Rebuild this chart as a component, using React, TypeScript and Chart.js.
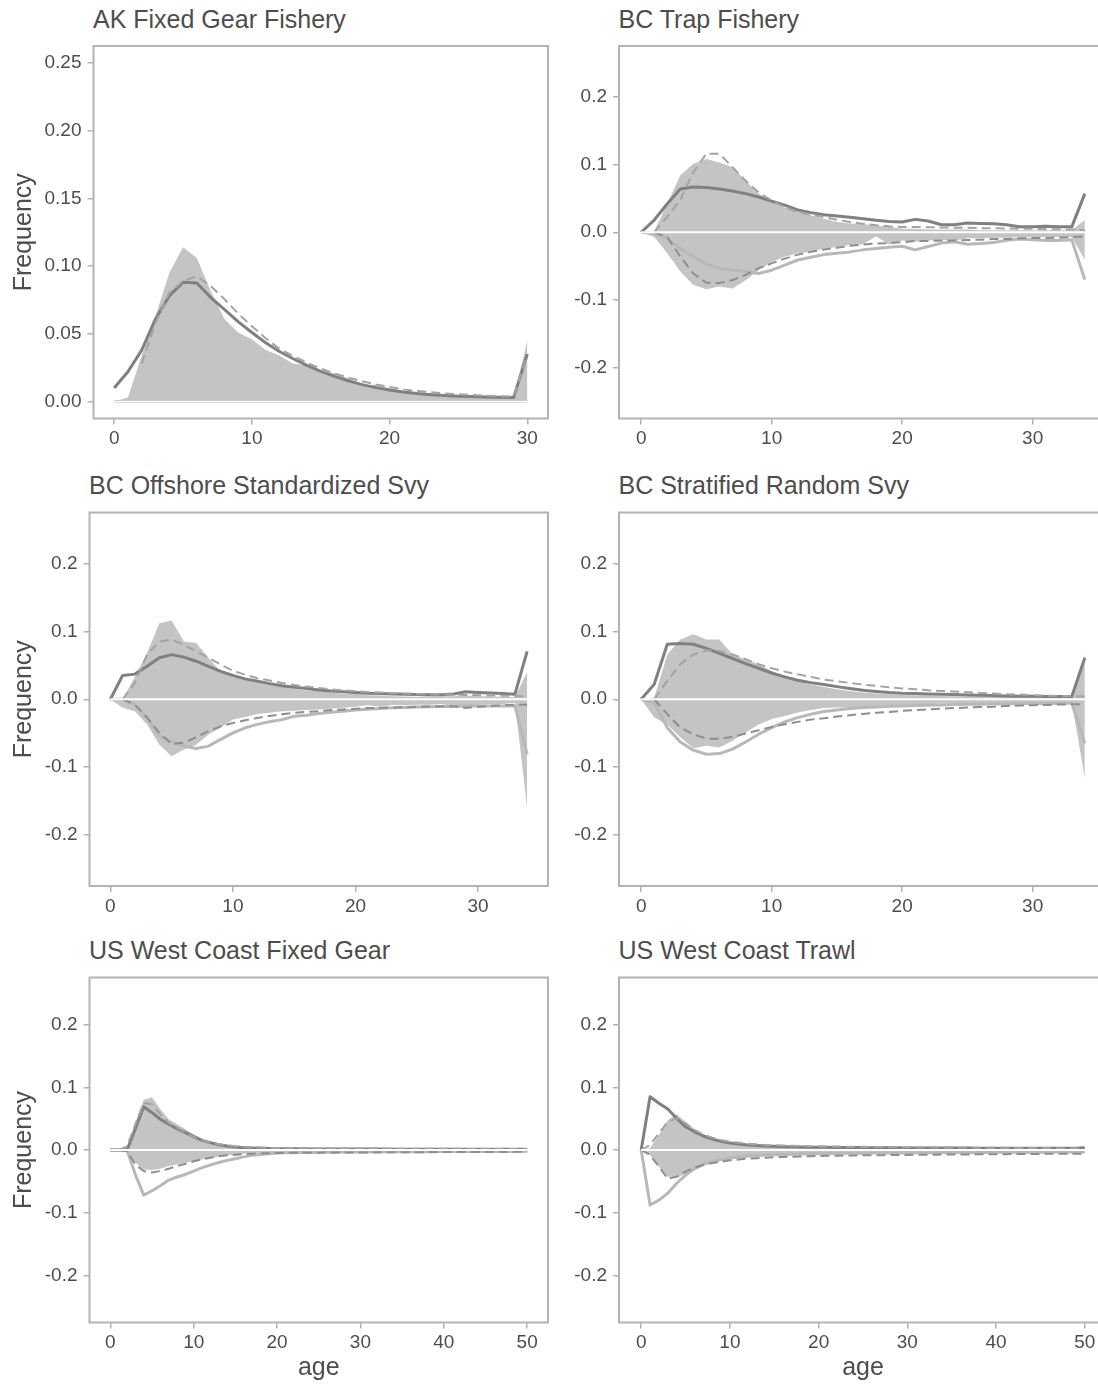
import React, { useEffect, useRef } from "react";
import { Chart, registerables } from "chart.js";

Chart.register(...registerables);

// ---------------- categories (ages) ----------------
const AGES_0_30 = [0, 1, 2, 3, 4, 5, 6, 7, 8, 9, 10, 11, 12, 13, 14, 15, 16, 17, 18, 19, 20, 21, 22, 23, 24, 25, 26, 27, 28, 29, 30];
const AGES_0_34 = [0, 1, 2, 3, 4, 5, 6, 7, 8, 9, 10, 11, 12, 13, 14, 15, 16, 17, 18, 19, 20, 21, 22, 23, 24, 25, 26, 27, 28, 29, 30, 31, 32, 33, 34];
const AGES_0_50 = [0, 1, 2, 3, 4, 5, 6, 7, 8, 9, 10, 11, 12, 13, 14, 15, 16, 17, 18, 19, 20, 21, 22, 23, 24, 25, 26, 27, 28, 29, 30, 31, 32, 33, 34, 35, 36, 37, 38, 39, 40, 41, 42, 43, 44, 45, 46, 47, 48, 49, 50];

// ---------------- tick labels ----------------
const X_TICKS_30 = [0, 10, 20, 30];
const X_LABELS_30 = ["0", "10", "20", "30"];
const X_TICKS_50 = [0, 10, 20, 30, 40, 50];
const X_LABELS_50 = ["0", "10", "20", "30", "40", "50"];
const Y_TICKS_AK = [0, 0.05, 0.1, 0.15, 0.2, 0.25];
const Y_LABELS_AK = ["0.00", "0.05", "0.10", "0.15", "0.20", "0.25"];
const Y_TICKS_SYM = [-0.2, -0.1, 0, 0.1, 0.2];
const Y_LABELS_SYM = ["-0.2", "-0.1", "0.0", "0.1", "0.2"];

// ---------------- AK Fixed Gear Fishery ----------------
const AK_OBS_F = [0, 0.003, 0.034, 0.063, 0.095, 0.114, 0.106, 0.082, 0.061, 0.051, 0.046, 0.038, 0.034, 0.028, 0.027, 0.022, 0.021, 0.017, 0.012, 0.0125, 0.0096, 0.007, 0.0066, 0.006, 0.005, 0.0047, 0.004, 0.0037, 0.0034, 0.0027, 0.045];
const AK_PRED_F = [0.010, 0.022, 0.038, 0.061, 0.078, 0.088, 0.0875, 0.077, 0.068, 0.059, 0.051, 0.0434, 0.037, 0.0316, 0.0267, 0.0223, 0.0186, 0.0154, 0.0125, 0.0103, 0.0086, 0.0071, 0.0059, 0.0051, 0.0044, 0.0039, 0.0037, 0.0034, 0.0032, 0.003, 0.035];
const AK_EXP_F = [null, null, 0.028, 0.058, 0.080, 0.089, 0.0925, 0.0855, 0.0757, 0.065, 0.0556, 0.0468, 0.039, 0.0336, 0.0287, 0.0243, 0.0208, 0.0176, 0.015, 0.0127, 0.0108, 0.009, 0.0078, 0.0069, 0.006, 0.0054, 0.0049, 0.0044, 0.004, 0.0037, 0.034];
const AK_PRED_M = [0, 0, 0, 0, 0, 0, 0, 0, 0, 0, 0, 0, 0, 0, 0, 0, 0, 0, 0, 0, 0, 0, 0, 0, 0, 0, 0, 0, 0, 0, 0];

// ---------------- BC Trap Fishery ----------------
const TRAP_OBS_F = [0, 0.002, 0.042, 0.084, 0.101, 0.108, 0.103, 0.096, 0.076, 0.057, 0.047, 0.037, 0.032, 0.025, 0.020, 0.015, 0.013, 0.012, 0.010, 0.008, 0.005, 0.005, 0.004, 0.004, 0.004, 0.004, 0.003, 0.003, 0.003, 0.003, 0.003, 0.003, 0.003, 0.003, 0.018];
const TRAP_PRED_F = [0, 0.018, 0.042, 0.064, 0.0667, 0.066, 0.064, 0.061, 0.057, 0.052, 0.046, 0.040, 0.033, 0.029, 0.026, 0.024, 0.022, 0.020, 0.0176, 0.016, 0.015, 0.019, 0.0167, 0.011, 0.011, 0.0137, 0.013, 0.0127, 0.011, 0.008, 0.008, 0.009, 0.008, 0.008, 0.057];
const TRAP_EXP_F = [null, 0, 0.023, 0.048, 0.089, 0.116, 0.116, 0.096, 0.076, 0.059, 0.047, 0.037, 0.030, 0.026, 0.0225, 0.0186, 0.015, 0.0127, 0.0103, 0.0088, 0.0078, 0.0078, 0.0075, 0.0069, 0.0068, 0.0065, 0.006, 0.006, 0.0055, 0.005, 0.005, 0.0045, 0.0045, 0.004, 0.003];
const TRAP_OBS_M = [0, -0.007, -0.031, -0.058, -0.078, -0.084, -0.080, -0.083, -0.071, -0.056, -0.044, -0.036, -0.031, -0.029, -0.024, -0.0216, -0.019, -0.0176, -0.006, -0.018, -0.012, -0.014, -0.012, -0.011, -0.012, -0.009, -0.009, -0.008, -0.008, -0.007, -0.007, -0.007, -0.007, -0.007, -0.041];
const TRAP_PRED_M = [0, -0.002, -0.009, -0.024, -0.036, -0.047, -0.053, -0.056, -0.058, -0.061, -0.056, -0.0485, -0.041, -0.037, -0.033, -0.031, -0.029, -0.026, -0.024, -0.022, -0.0206, -0.026, -0.021, -0.016, -0.014, -0.0176, -0.0167, -0.015, -0.012, -0.010, -0.011, -0.012, -0.012, -0.011, -0.070];
const TRAP_EXP_M = [null, 0, -0.007, -0.036, -0.061, -0.0745, -0.075, -0.0706, -0.063, -0.053, -0.046, -0.039, -0.033, -0.029, -0.0255, -0.023, -0.020, -0.018, -0.0167, -0.016, -0.0147, -0.013, -0.013, -0.012, -0.012, -0.0115, -0.011, -0.010, -0.0098, -0.009, -0.0085, -0.0085, -0.008, -0.007, -0.006];

// ---------------- BC Offshore Standardized Svy ----------------
const OFF_OBS_F = [0, 0, 0.033, 0.068, 0.112, 0.116, 0.085, 0.083, 0.061, 0.041, 0.032, 0.029, 0.024, 0.0216, 0.019, 0.015, 0.013, 0.0118, 0.010, 0.008, 0.008, 0.006, 0.0055, 0.0045, 0.004, 0.0035, 0.004, 0.0045, 0.0045, 0.0055, 0.0045, 0.004, 0.0035, 0.003, 0.040];
const OFF_PRED_F = [0, 0.035, 0.037, 0.0485, 0.061, 0.0657, 0.062, 0.056, 0.0485, 0.041, 0.035, 0.030, 0.0265, 0.023, 0.020, 0.0176, 0.0157, 0.0137, 0.012, 0.011, 0.0098, 0.0088, 0.0083, 0.0078, 0.0074, 0.0069, 0.0066, 0.0066, 0.0078, 0.011, 0.010, 0.0093, 0.0083, 0.0074, 0.0706];
const OFF_EXP_F = [null, 0, 0.024, 0.066, 0.085, 0.088, 0.080, 0.0706, 0.061, 0.051, 0.042, 0.036, 0.031, 0.0275, 0.024, 0.021, 0.0186, 0.0167, 0.0147, 0.0132, 0.0118, 0.0108, 0.0098, 0.009, 0.0083, 0.0078, 0.0073, 0.0069, 0.0066, 0.0063, 0.0059, 0.0056, 0.0053, 0.0049, 0.004];
const OFF_OBS_M = [0, -0.0127, -0.0176, -0.037, -0.067, -0.084, -0.074, -0.067, -0.052, -0.042, -0.030, -0.026, -0.0216, -0.020, -0.0176, -0.017, -0.016, -0.015, -0.014, -0.0127, -0.011, -0.009, -0.011, -0.0085, -0.009, -0.008, -0.008, -0.007, -0.010, -0.0127, -0.008, -0.007, -0.007, -0.005, -0.160];
const OFF_PRED_M = [0, 0, -0.008, -0.0275, -0.054, -0.062, -0.069, -0.0725, -0.069, -0.059, -0.0495, -0.042, -0.037, -0.033, -0.030, -0.025, -0.0235, -0.021, -0.019, -0.0176, -0.016, -0.0147, -0.0137, -0.0127, -0.012, -0.0115, -0.011, -0.0105, -0.0105, -0.010, -0.010, -0.0098, -0.0098, -0.0098, -0.081];
const OFF_EXP_M = [null, 0, -0.008, -0.027, -0.0495, -0.066, -0.064, -0.056, -0.047, -0.040, -0.035, -0.031, -0.0275, -0.0245, -0.022, -0.020, -0.0186, -0.0176, -0.016, -0.015, -0.014, -0.013, -0.0127, -0.012, -0.0118, -0.011, -0.0108, -0.0103, -0.0103, -0.0127, -0.011, -0.0098, -0.0088, -0.008, -0.008];

// ---------------- BC Stratified Random Svy ----------------
const STRAT_OBS_F = [0, 0.0025, 0.066, 0.088, 0.0956, 0.088, 0.088, 0.066, 0.059, 0.0515, 0.0417, 0.032, 0.027, 0.022, 0.018, 0.0147, 0.012, 0.0098, 0.0083, 0.0074, 0.0064, 0.006, 0.0055, 0.0049, 0.0044, 0.0039, 0.0039, 0.0034, 0.0034, 0.003, 0.003, 0.003, 0.0025, 0.0025, 0.066];
const STRAT_PRED_F = [0, 0.022, 0.081, 0.082, 0.081, 0.075, 0.0676, 0.060, 0.0525, 0.0456, 0.0387, 0.033, 0.028, 0.0245, 0.0216, 0.0186, 0.0157, 0.0132, 0.0113, 0.0098, 0.0088, 0.0083, 0.0078, 0.0074, 0.0069, 0.0064, 0.006, 0.0055, 0.0049, 0.0044, 0.0044, 0.004, 0.004, 0.0039, 0.061];
const STRAT_EXP_F = [null, 0, 0.027, 0.0515, 0.066, 0.072, 0.071, 0.066, 0.059, 0.0515, 0.0456, 0.0407, 0.0368, 0.033, 0.029, 0.0265, 0.024, 0.0216, 0.0196, 0.0176, 0.016, 0.0147, 0.0132, 0.0123, 0.0113, 0.0103, 0.0093, 0.0083, 0.0074, 0.0069, 0.0059, 0.0054, 0.0049, 0.0044, 0.004];
const STRAT_OBS_M = [0, -0.027, -0.037, -0.056, -0.072, -0.0686, -0.071, -0.061, -0.049, -0.037, -0.029, -0.0245, -0.0196, -0.016, -0.013, -0.012, -0.012, -0.011, -0.0098, -0.009, -0.0083, -0.0074, -0.0074, -0.0064, -0.0064, -0.006, -0.006, -0.0054, -0.0054, -0.005, -0.005, -0.005, -0.005, -0.0044, -0.116];
const STRAT_PRED_M = [0, -0.005, -0.042, -0.063, -0.075, -0.081, -0.080, -0.0735, -0.063, -0.0515, -0.0417, -0.0333, -0.027, -0.022, -0.018, -0.0157, -0.0137, -0.0123, -0.0113, -0.0103, -0.0098, -0.0093, -0.0088, -0.0083, -0.0078, -0.0074, -0.0074, -0.0069, -0.0069, -0.0064, -0.0064, -0.0064, -0.006, -0.006, -0.065];
const STRAT_EXP_M = [null, 0, -0.022, -0.0417, -0.0515, -0.058, -0.058, -0.0554, -0.0505, -0.0456, -0.0407, -0.0368, -0.0333, -0.030, -0.028, -0.0255, -0.0235, -0.0216, -0.020, -0.0186, -0.017, -0.016, -0.015, -0.014, -0.013, -0.0123, -0.0115, -0.011, -0.0098, -0.0093, -0.0088, -0.0083, -0.0078, -0.0074, -0.0074];

// ---------------- US West Coast Fixed Gear ----------------
const FG_OBS_F = [0, 0, 0.001, 0.044, 0.080, 0.084, 0.065, 0.049, 0.041, 0.033, 0.025, 0.018, 0.013, 0.010, 0.0074, 0.0053, 0.0037, 0.003, 0.002, 0.0015, 0.001,
  0.001, 0.001, 0.0009, 0.0009, 0.0008, 0.0008, 0.0008, 0.0007, 0.0007, 0.0007, 0.0006, 0.0006, 0.0006, 0.0006, 0.0005, 0.0005, 0.0005, 0.0005, 0.0005, 0.0004, 0.0004, 0.0004, 0.0004, 0.0004, 0.0004, 0.0003, 0.0003, 0.0003, 0.0003, 0.0003];
const FG_PRED_F = [0, 0, 0, 0.034, 0.069, 0.0595, 0.049, 0.041, 0.034, 0.0276, 0.0213, 0.0154, 0.0117, 0.0085, 0.0064, 0.0048, 0.0037, 0.0032, 0.0027, 0.0024, 0.002,
  0.0019, 0.0018, 0.0018, 0.0017, 0.0017, 0.0016, 0.0016, 0.0015, 0.0015, 0.0015, 0.0014, 0.0014, 0.0014, 0.0013, 0.0013, 0.0013, 0.0013, 0.0012, 0.0012, 0.0012, 0.0012, 0.0011, 0.0011, 0.0011, 0.0011, 0.0011, 0.001, 0.001, 0.001, 0.001];
const FG_EXP_F = [null, 0, 0.006, 0.041, 0.075, 0.073, 0.057, 0.0436, 0.0356, 0.0276, 0.021, 0.0154, 0.0117, 0.009, 0.0074, 0.006, 0.005, 0.0045, 0.004, 0.0035, 0.003,
  0.0028, 0.0027, 0.0026, 0.0026, 0.0025, 0.0025, 0.0024, 0.0024, 0.0023, 0.0023, 0.0022, 0.0022, 0.0021, 0.0021, 0.002, 0.002, 0.002, 0.0019, 0.0019, 0.0018, 0.0018, 0.0018, 0.0017, 0.0017, 0.0016, 0.0016, 0.0016, 0.0015, 0.0015, 0.0015];
const FG_OBS_M = [0, 0, -0.004, -0.020, -0.031, -0.032, -0.030, -0.0255, -0.023, -0.020, -0.0175, -0.015, -0.0128, -0.0106, -0.0085, -0.007, -0.006, -0.005, -0.0043, -0.0037, -0.003,
  -0.0028, -0.0026, -0.0024, -0.0023, -0.0022, -0.002, -0.0019, -0.0018, -0.0017, -0.0016, -0.0015, -0.0014, -0.0014, -0.0013, -0.0012, -0.0012, -0.0011, -0.0011, -0.001, -0.001, -0.001, -0.0009, -0.0009, -0.0009, -0.0008, -0.0008, -0.0008, -0.0008, -0.0007, -0.0007];
const FG_PRED_M = [0, 0, 0, -0.039, -0.072, -0.065, -0.057, -0.048, -0.043, -0.039, -0.0335, -0.028, -0.024, -0.020, -0.0165, -0.0138, -0.011, -0.0085, -0.007, -0.006, -0.0048,
  -0.0045, -0.0042, -0.004, -0.0038, -0.0036, -0.0035, -0.0034, -0.0033, -0.0032, -0.0031, -0.003, -0.003, -0.0029, -0.0028, -0.0028, -0.0027, -0.0027, -0.0026, -0.0026, -0.0025, -0.0025, -0.0024, -0.0024, -0.0024, -0.0023, -0.0023, -0.0022, -0.0022, -0.0022, -0.0021];
const FG_EXP_M = [null, 0, -0.002, -0.023, -0.0335, -0.036, -0.0335, -0.030, -0.0255, -0.022, -0.018, -0.015, -0.0122, -0.010, -0.0085, -0.0075, -0.0065, -0.006, -0.0053, -0.005, -0.0048,
  -0.0046, -0.0045, -0.0044, -0.0043, -0.0042, -0.0041, -0.004, -0.004, -0.0039, -0.0038, -0.0038, -0.0037, -0.0036, -0.0036, -0.0035, -0.0035, -0.0034, -0.0034, -0.0033, -0.0033, -0.0032, -0.0032, -0.0032, -0.0031, -0.0031, -0.003, -0.003, -0.003, -0.0029, -0.0029];

// ---------------- US West Coast Trawl ----------------
const TW_OBS_F = [0, 0.0027, 0.024, 0.048, 0.057, 0.045, 0.0335, 0.025, 0.0186, 0.015, 0.0117, 0.0096, 0.008, 0.007, 0.0058, 0.0053, 0.0048, 0.0043, 0.004, 0.0036, 0.0032,
  0.003, 0.0029, 0.0028, 0.0027, 0.0026, 0.0025, 0.0024, 0.0023, 0.0023, 0.0022, 0.0021, 0.0021, 0.002, 0.002, 0.0019, 0.0019, 0.0018, 0.0018, 0.0017, 0.0017, 0.0016, 0.0016, 0.0015, 0.0015, 0.0014, 0.0014, 0.0013, 0.0013, 0.0012, 0.0012];
const TW_PRED_F = [0, 0.085, 0.0745, 0.0654, 0.0505, 0.037, 0.029, 0.0223, 0.0175, 0.0138, 0.011, 0.0096, 0.008, 0.0072, 0.0064, 0.0058, 0.0053, 0.005, 0.0048, 0.0045, 0.0043,
  0.0042, 0.0041, 0.004, 0.0039, 0.0038, 0.0037, 0.0036, 0.0035, 0.0034, 0.0033, 0.0033, 0.0032, 0.0032, 0.0031, 0.0031, 0.003, 0.003, 0.0029, 0.0029, 0.0028, 0.0028, 0.0028, 0.0027, 0.0027, 0.0027, 0.0027, 0.0027, 0.0028, 0.0029, 0.0035];
const TW_EXP_F = [0, 0.008, 0.0266, 0.045, 0.0505, 0.0425, 0.032, 0.025, 0.0197, 0.016, 0.0133, 0.0117, 0.0101, 0.009, 0.008, 0.0075, 0.0072, 0.0068, 0.0064, 0.006, 0.0058,
  0.0056, 0.0055, 0.0053, 0.0052, 0.005, 0.0049, 0.0048, 0.0047, 0.0046, 0.0045, 0.0044, 0.0043, 0.0042, 0.0041, 0.004, 0.0039, 0.0038, 0.0037, 0.0036, 0.0035, 0.0034, 0.0033, 0.0032, 0.0032, 0.0031, 0.003, 0.0029, 0.0028, 0.0028, 0.0027];
const TW_OBS_M = [0, -0.008, -0.0266, -0.0425, -0.045, -0.037, -0.029, -0.024, -0.020, -0.017, -0.015, -0.013, -0.0117, -0.0106, -0.0096, -0.009, -0.0085, -0.008, -0.0074, -0.0069, -0.0064,
  -0.0062, -0.006, -0.0058, -0.0056, -0.0054, -0.0052, -0.005, -0.0048, -0.0047, -0.0045, -0.0044, -0.0042, -0.0041, -0.004, -0.0039, -0.0038, -0.0037, -0.0036, -0.0035, -0.0034, -0.0033, -0.0032, -0.0031, -0.003, -0.003, -0.0029, -0.0028, -0.0028, -0.0027, -0.0027];
const TW_PRED_M = [0, -0.0877, -0.080, -0.069, -0.053, -0.040, -0.030, -0.023, -0.0186, -0.0154, -0.0128, -0.011, -0.0096, -0.0088, -0.008, -0.0074, -0.007, -0.0067, -0.0064, -0.0061, -0.0058,
  -0.0056, -0.0055, -0.0053, -0.0052, -0.005, -0.0049, -0.0048, -0.0047, -0.0046, -0.0045, -0.0044, -0.0043, -0.0042, -0.0041, -0.0041, -0.004, -0.0039, -0.0039, -0.0038, -0.0037, -0.0037, -0.0036, -0.0035, -0.0035, -0.0034, -0.0034, -0.0033, -0.0033, -0.0032, -0.0032];
const TW_EXP_M = [0, -0.008, -0.0266, -0.046, -0.0425, -0.0345, -0.028, -0.024, -0.0207, -0.0186, -0.0165, -0.015, -0.0138, -0.013, -0.0122, -0.0116, -0.011, -0.0106, -0.0102, -0.0098, -0.0095,
  -0.0093, -0.0091, -0.0089, -0.0087, -0.0085, -0.0084, -0.0082, -0.0081, -0.0079, -0.0078, -0.0077, -0.0076, -0.0074, -0.0073, -0.0072, -0.0071, -0.007, -0.0069, -0.0068, -0.0067, -0.0066, -0.0065, -0.0064, -0.0063, -0.0062, -0.0061, -0.006, -0.0059, -0.0059, -0.0058];

// ---------------- styles ----------------
const FONT_FAMILY = '"Liberation Sans", Arial, Helvetica, sans-serif';
const TEXT_COLOR = "#4d4d4d";
const BORDER_COLOR = "#b3b3b3";
const FILL_COLOR = "rgb(196,196,196)";
const PRED_F_COLOR = "#808080";
const PRED_M_COLOR = "#b8b8b8";
const EXP_F_COLOR = "#a3a3a3";
const EXP_M_COLOR = "#8e8e8e";

type Series = (number | null)[] | null;
type Layout = {
  boxL: number; boxR: number; boxT: number; boxB: number;
  canvasL: number; canvasR: number; canvasT: number; canvasB: number;
  xMin: number; xMax: number; yMin: number; yMax: number;
  yTitle: boolean; xTitle: boolean;
};
type Spec = {
  title: string;
  ages: number[];
  obsF: Series; obsM: Series; predF: Series; predM: Series; expF: Series; expM: Series;
  xTicks: number[]; xLabels: string[]; yTicks: number[]; yLabels: string[];
  layout: Layout;
};

const LEFT = { canvasL: 8, canvasR: 552, boxR: 548 };
const RIGHT = { canvasL: 565, canvasR: 1110, boxL: 619, boxR: 1107 };
const ROW0 = { boxT: 46, boxB: 418.5, canvasT: 42, canvasB: 451 };
const ROW1 = { boxT: 512.5, boxB: 886, canvasT: 508, canvasB: 919 };
const ROW2 = { boxT: 977.5, boxB: 1322.5, canvasT: 973, canvasB: 1385 };

const PANELS: Spec[] = [
  {
    title: "AK Fixed Gear Fishery", ages: AGES_0_30,
    obsF: AK_OBS_F, obsM: null, predF: AK_PRED_F, predM: AK_PRED_M, expF: AK_EXP_F, expM: null,
    xTicks: X_TICKS_30, xLabels: X_LABELS_30, yTicks: Y_TICKS_AK, yLabels: Y_LABELS_AK,
    layout: { ...LEFT, ...ROW0, boxL: 93.5, xMin: -1.5, xMax: 31.5, yMin: -0.0125, yMax: 0.2625, yTitle: true, xTitle: false },
  },
  {
    title: "BC Trap Fishery", ages: AGES_0_34,
    obsF: TRAP_OBS_F, obsM: TRAP_OBS_M, predF: TRAP_PRED_F, predM: TRAP_PRED_M, expF: TRAP_EXP_F, expM: TRAP_EXP_M,
    xTicks: X_TICKS_30, xLabels: X_LABELS_30, yTicks: Y_TICKS_SYM, yLabels: Y_LABELS_SYM,
    layout: { ...RIGHT, ...ROW0, xMin: -1.7, xMax: 35.7, yMin: -0.275, yMax: 0.275, yTitle: false, xTitle: false },
  },
  {
    title: "BC Offshore Standardized Svy", ages: AGES_0_34,
    obsF: OFF_OBS_F, obsM: OFF_OBS_M, predF: OFF_PRED_F, predM: OFF_PRED_M, expF: OFF_EXP_F, expM: OFF_EXP_M,
    xTicks: X_TICKS_30, xLabels: X_LABELS_30, yTicks: Y_TICKS_SYM, yLabels: Y_LABELS_SYM,
    layout: { ...LEFT, ...ROW1, boxL: 89.5, xMin: -1.7, xMax: 35.7, yMin: -0.275, yMax: 0.275, yTitle: true, xTitle: false },
  },
  {
    title: "BC Stratified Random Svy", ages: AGES_0_34,
    obsF: STRAT_OBS_F, obsM: STRAT_OBS_M, predF: STRAT_PRED_F, predM: STRAT_PRED_M, expF: STRAT_EXP_F, expM: STRAT_EXP_M,
    xTicks: X_TICKS_30, xLabels: X_LABELS_30, yTicks: Y_TICKS_SYM, yLabels: Y_LABELS_SYM,
    layout: { ...RIGHT, ...ROW1, xMin: -1.7, xMax: 35.7, yMin: -0.275, yMax: 0.275, yTitle: false, xTitle: false },
  },
  {
    title: "US West Coast Fixed Gear", ages: AGES_0_50,
    obsF: FG_OBS_F, obsM: FG_OBS_M, predF: FG_PRED_F, predM: FG_PRED_M, expF: FG_EXP_F, expM: FG_EXP_M,
    xTicks: X_TICKS_50, xLabels: X_LABELS_50, yTicks: Y_TICKS_SYM, yLabels: Y_LABELS_SYM,
    layout: { ...LEFT, ...ROW2, boxL: 89.5, xMin: -2.5, xMax: 52.5, yMin: -0.275, yMax: 0.275, yTitle: true, xTitle: true },
  },
  {
    title: "US West Coast Trawl", ages: AGES_0_50,
    obsF: TW_OBS_F, obsM: TW_OBS_M, predF: TW_PRED_F, predM: TW_PRED_M, expF: TW_EXP_F, expM: TW_EXP_M,
    xTicks: X_TICKS_50, xLabels: X_LABELS_50, yTicks: Y_TICKS_SYM, yLabels: Y_LABELS_SYM,
    layout: { ...RIGHT, ...ROW2, xMin: -2.5, xMax: 52.5, yMin: -0.275, yMax: 0.275, yTitle: false, xTitle: true },
  },
];

function pts(ages: number[], vals: (number | null)[]) {
  return ages.map((a, i) => ({ x: a, y: vals[i] }));
}

const boxPlugin = {
  id: "panelBox",
  afterDatasetsDraw(chart: any) {
    const { ctx, chartArea: a } = chart;
    ctx.save();
    ctx.strokeStyle = BORDER_COLOR;
    ctx.lineWidth = 2;
    ctx.strokeRect(a.left, a.top, a.right - a.left, a.bottom - a.top);
    ctx.restore();
  },
};

function zeroPadding(s: any) {
  s.paddingTop = 0;
  s.paddingBottom = 0;
  s.paddingLeft = 0;
  s.paddingRight = 0;
}

function Panel({ spec }: { spec: Spec }) {
  const ref = useRef<HTMLCanvasElement | null>(null);
  const L = spec.layout;
  const w = L.canvasR - L.canvasL;
  const h = L.canvasB - L.canvasT;

  useEffect(() => {
    if (!ref.current) return;
    const datasets: any[] = [];
    // index 0 is drawn on top
    datasets.push({
      label: "zero", data: spec.ages.map((a) => ({ x: a, y: 0 })),
      borderColor: "#ffffff", borderWidth: 1.8, pointRadius: 0, fill: false,
    });
    if (spec.expF) datasets.push({
      label: "expF", data: pts(spec.ages, spec.expF), borderColor: EXP_F_COLOR, borderWidth: 2,
      borderDash: [9, 5], pointRadius: 0, fill: false, spanGaps: false,
    });
    if (spec.expM) datasets.push({
      label: "expM", data: pts(spec.ages, spec.expM), borderColor: EXP_M_COLOR, borderWidth: 2,
      borderDash: [9, 5], pointRadius: 0, fill: false, spanGaps: false,
    });
    if (spec.predF) datasets.push({
      label: "predF", data: pts(spec.ages, spec.predF), borderColor: PRED_F_COLOR, borderWidth: 3,
      pointRadius: 0, fill: false, borderJoinStyle: "round",
    });
    if (spec.predM) datasets.push({
      label: "predM", data: pts(spec.ages, spec.predM), borderColor: PRED_M_COLOR, borderWidth: 3,
      pointRadius: 0, fill: false, borderJoinStyle: "round",
    });
    if (spec.obsM) datasets.push({
      label: "obsM", data: pts(spec.ages, spec.obsM), borderColor: "rgba(0,0,0,0)", borderWidth: 0,
      backgroundColor: FILL_COLOR, pointRadius: 0, fill: "origin",
    });
    if (spec.obsF) datasets.push({
      label: "obsF", data: pts(spec.ages, spec.obsF), borderColor: "rgba(0,0,0,0)", borderWidth: 0,
      backgroundColor: FILL_COLOR, pointRadius: 0, fill: "origin",
    });

    const tickFont = { family: FONT_FAMILY, size: 19, lineHeight: 1.2 };
    const titleFont = { family: FONT_FAMILY, size: 25, lineHeight: 1 };
    const gridOpts = {
      display: true, drawOnChartArea: false, drawTicks: true, tickLength: 6,
      tickWidth: 1.5, tickColor: BORDER_COLOR, color: BORDER_COLOR, lineWidth: 1.5,
    };

    const chart = new Chart(ref.current, {
      type: "line",
      data: { datasets },
      plugins: [boxPlugin],
      options: {
        responsive: false,
        animation: false,
        devicePixelRatio: 1,
        events: [],
        layout: {
          autoPadding: false,
          padding: { top: L.boxT - L.canvasT, right: L.canvasR - L.boxR, left: 0, bottom: 0 },
        },
        elements: { line: { tension: 0 }, point: { radius: 0 } },
        plugins: { legend: { display: false }, tooltip: { enabled: false }, title: { display: false } },
        scales: {
          x: {
            type: "linear", position: "bottom", min: L.xMin, max: L.xMax,
            afterBuildTicks: (s: any) => { s.ticks = spec.xTicks.map((v) => ({ value: v })); },
            afterFit: (s: any) => { s.height = L.canvasB - L.boxB; zeroPadding(s); },
            grid: gridOpts,
            border: { display: false },
            ticks: {
              autoSkip: false, maxRotation: 0, minRotation: 0, padding: 3, color: TEXT_COLOR, font: tickFont,
              callback: (v: any) => spec.xLabels[spec.xTicks.indexOf(v)],
            },
            title: {
              display: L.xTitle, text: "age", color: TEXT_COLOR, font: titleFont,
              padding: { top: 0, bottom: 4.5 },
            },
          },
          y: {
            type: "linear", position: "left", min: L.yMin, max: L.yMax,
            afterBuildTicks: (s: any) => { s.ticks = spec.yTicks.map((v) => ({ value: v })); },
            afterFit: (s: any) => { s.width = L.boxL - L.canvasL; zeroPadding(s); },
            grid: gridOpts,
            border: { display: false },
            ticks: {
              autoSkip: false, padding: 6, color: TEXT_COLOR, font: tickFont,
              callback: (v: any) => spec.yLabels[spec.yTicks.indexOf(v)],
            },
            title: {
              display: L.yTitle, text: "Frequency", color: TEXT_COLOR, font: titleFont,
              padding: { top: 3.7, bottom: 0 },
            },
          },
        },
      } as any,
    });
    return () => chart.destroy();
  }, []);

  return (
    <>
      <div
        style={{
          position: "absolute", left: L.boxL - 0.5, top: L.boxT - 39.5,
          fontFamily: FONT_FAMILY, fontSize: 25, lineHeight: "25px", color: TEXT_COLOR, whiteSpace: "nowrap",
        }}
      >
        {spec.title}
      </div>
      <canvas
        ref={ref}
        width={w}
        height={h}
        style={{ position: "absolute", left: L.canvasL, top: L.canvasT, width: w, height: h }}
      />
    </>
  );
}

export default function App() {
  return (
    <div
      style={{
        position: "fixed", left: 0, top: 0, width: 1098, height: 1385,
        overflow: "hidden", background: "#ffffff",
      }}
    >
      {PANELS.map((p) => (
        <Panel key={p.title} spec={p} />
      ))}
    </div>
  );
}
